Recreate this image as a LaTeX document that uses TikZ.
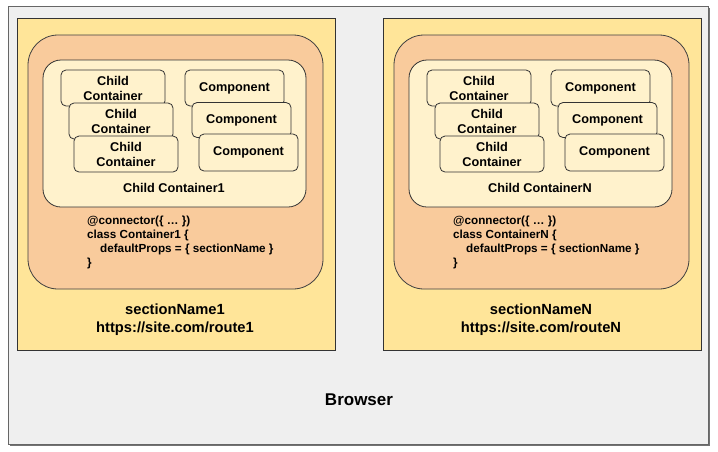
\documentclass[tikz,border=0pt]{standalone}
\usepackage{fontspec}
\setmainfont{Liberation Sans}
\usetikzlibrary{positioning}
\definecolor{browserfill}{HTML}{EFEFEF}
\definecolor{sectionfill}{HTML}{FFE599}
\definecolor{containerfill}{HTML}{F9CB9C}
\definecolor{childfill}{HTML}{FFF2CC}
\tikzset{
    browserbox/.style={draw=black!60, fill=browserfill, line width=0.9pt},
    sectionbox/.style={draw=black!80, fill=sectionfill, line width=0.8pt},
    containerbox/.style={draw=black!75, fill=containerfill, line width=0.8pt, rounded corners=30pt},
    childbox/.style={draw=black!80, fill=childfill, line width=0.8pt, rounded corners=18pt},
    partbox/.style={draw=black!80, fill=childfill, line width=0.8pt, rounded corners=5pt,
        inner sep=0pt, align=center, font=\bfseries\fontsize{12.7}{15}\selectfont},
    labeltext/.style={inner sep=0pt, align=center, font=\bfseries\fontsize{12.7}{15}\selectfont},
    codetext/.style={inner sep=0pt, align=left, font=\bfseries\fontsize{11.7}{14}\selectfont},
    nametext/.style={inner sep=0pt, align=center, font=\bfseries\fontsize{14.7}{18}\selectfont}
}

\begin{document}
\begin{tikzpicture}[x=1pt, y=-1pt]
    \useasboundingbox (0,0) rectangle (718,451);

    \fill[black!55] (9.5,7.5) rectangle (709.5,446);
    \draw[browserbox] (8,6) rectangle (708,444);
    \node (browser) [nametext, font=\bfseries\fontsize{17}{20}\selectfont] at (359,400) {Browser};

    \foreach \s/\dx in {1/0, N/366} {
        \begin{scope}[xshift=\dx]
            \draw[sectionbox] (17,18) rectangle (335,350);
            \draw[containerbox] (28,35) rectangle (323,289);
            \draw[childbox] (43,60) rectangle (306,207);

            \node (cc\s a) [partbox, minimum width=104pt, minimum height=36pt] at (113,88) {Child\\Container};
            \node (cc\s b) [partbox, minimum width=104pt, minimum height=36pt] at (121,121) {Child\\Container};
            \node (cc\s c) [partbox, minimum width=104pt, minimum height=36pt] at (126,154) {Child\\Container};

            \node (comp\s a) [partbox, minimum width=99pt, minimum height=36pt] at (234.5,88) {Component};
            \node (comp\s b) [partbox, minimum width=99pt, minimum height=35pt] at (241.5,120) {Component};
            \node (comp\s c) [partbox, minimum width=99pt, minimum height=37pt] at (248.5,152.5) {Component};

            \node (child\s) [labeltext] at (174,188) {Child Container\s};

            \node (code\s) [codetext, anchor=north west] at (87,215.5)
                {@connector(\{ \dots\ \})\\class Container\s\ \{\\\hspace*{13pt}defaultProps = \{ sectionName \}\\\}};

            \node (name\s) [nametext] at (175,319.5) {sectionName\s\\https://site.com/route\s};
        \end{scope}
    }
\end{tikzpicture}
\end{document}
